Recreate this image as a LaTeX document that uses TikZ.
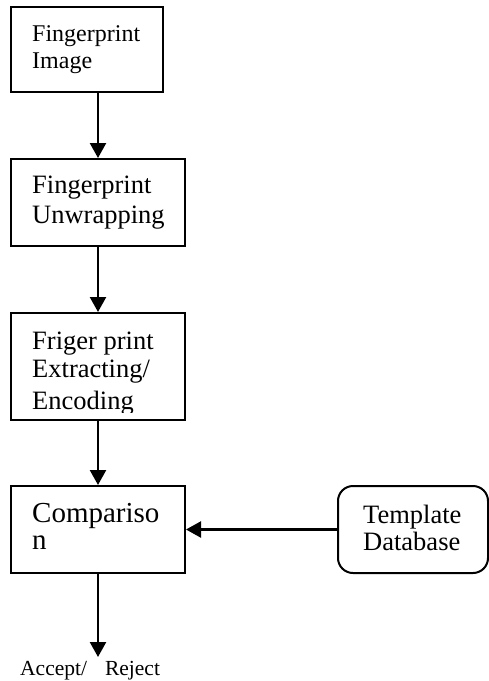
\documentclass[tikz,border=0pt]{standalone}
\usepackage{fontspec}
\setmainfont{Liberation Serif}
\usetikzlibrary{arrows.meta}
\begin{document}
\begin{tikzpicture}[x=1pt,y=-1pt,
  box/.style={draw, line width=2pt, inner sep=0pt, minimum width=174pt, minimum height=87pt},
  lbl/.style={anchor=base west, inner sep=0pt},
  arr/.style={line width=2.3pt, -{Triangle[width=16pt,length=15pt]}},
  fA/.style={font=\fontsize{24}{28}\selectfont},
  fB/.style={font=\fontsize{26.5}{30}\selectfont},
  fC/.style={font=\fontsize{29}{33}\selectfont},
  fD/.style={font=\fontsize{21.5}{25}\selectfont}]
  \useasboundingbox (0,0) rectangle (489,681);

  % process boxes
  \node[box, minimum width=152pt, minimum height=85pt] (img) at (87,49.5) {};
  \node[box] (unw) at (98,202.5) {};
  \node[box, minimum height=107pt] (enc) at (98,366.5) {};
  \node[box] (cmp) at (98,529.5) {};
  \node[box, rounded corners=15pt, minimum width=150pt] (db) at (413,529.5) {};

  % box texts
  \node[lbl, fA] (img1) at (32,41) {Fingerprint};
  \node[lbl, fA] (img2) at (32,68) {Image};
  \node[lbl, fB] (unw1) at (32,193) {Fingerprint};
  \node[lbl, fB] (unw2) at (32,223) {Unwrapping};
  \node[lbl, fB] (enc1) at (32,349) {Friger print};
  \node[lbl, fB] (enc2) at (32,377) {Extracting/};
  \begin{scope}
    \clip (12,380) rectangle (184,412);
    \node[lbl, fB] (enc3) at (32,409) {Encoding};
  \end{scope}
  \node[lbl, fC] (cmp1) at (32,522) {Compariso};
  \node[lbl, fC] (cmp2) at (32,549) {n};
  \node[lbl, fB] (db1) at (363,523.5) {Template};
  \node[lbl, fB] (db2) at (363,550) {Database};

  % connectors
  \draw[arr] (img.south -| unw.north) -- (unw.north);
  \draw[arr] (unw.south) -- (enc.north);
  \draw[arr] (enc.south) -- (cmp.north);
  \draw[arr] (db.west) -- (cmp.east);
  \coordinate (out) at (98,657);
  \draw[arr] (cmp.south) -- (out);
  \node[lbl, fD] (res) at (20,675) {Accept/\hspace{18pt}Reject};
\end{tikzpicture}
\end{document}
